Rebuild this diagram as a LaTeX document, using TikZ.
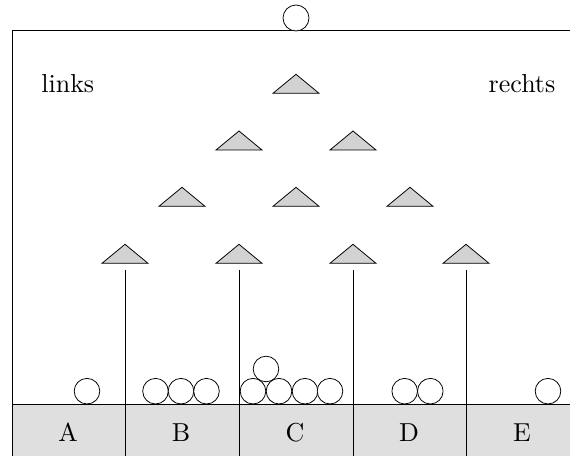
\documentclass[tikz,border=0pt]{standalone}
\begin{document}
\begin{tikzpicture}[x=0.385pt,y=-0.385pt,line width=0.3pt,
  peg/.style={draw=black,fill=gray!35,line join=miter},
  ball/.style={draw=black,fill=white},
  bin/.style={draw=black,fill=gray!25},
  wall/.style={draw=black},
  lbl/.style={anchor=base,inner sep=0pt,font=\normalsize}]
\clip (0,0) rectangle (570,456);
% frame
\coordinate (tl) at (12,30);
\coordinate (tr) at (580,30);
\coordinate (bl) at (12,470);
\coordinate (br) at (580,470);
\fill[gray!25] (12,404) rectangle (580,470);
\draw[wall] (bl) -- (tl) -- (tr) -- (br);
\coordinate (binL) at (12,404);
\coordinate (binR) at (580,404);
\draw[wall] (binL) -- (binR);
% inlet ball
\draw[ball] (296,18) circle (13);
% pegs
\foreach \n/\x/\y in {p11/296/74.3,
  p21/239/131, p22/353/131,
  p31/182/187.3, p32/296/187.3, p33/410/187.3,
  p41/125/244.3, p42/239/244.3, p43/353/244.3, p44/466/244.3}{
  \coordinate (\n) at (\x,\y);
  \draw[peg] ([shift={(-23,19)}]\n) -- (\n) -- ([shift={(23,19)}]\n) -- cycle;
}
% dividers
\foreach \n in {p41,p42,p43,p44}{
  \coordinate (\n s) at ([shift={(0,26)}]\n);
  \coordinate (\n e) at ([shift={(0,230)}]\n);
  \draw[wall] (\n s) -- (\n e);
}
% labels
\node[lbl] (links) at (67.8,92.3) {links};
\node[lbl] (rechts) at (522,92.3) {rechts};
\node[lbl] (A) at (68,441.7) {A};
\node[lbl] (B) at (181,441.7) {B};
\node[lbl] (C) at (295,441.7) {C};
\node[lbl] (D) at (409,441.7) {D};
\node[lbl] (E) at (522,441.7) {E};
% balls
\foreach \x in {87, 155.5,181,206.5, 253,279,305,330, 404.7,430.3, 548}{
  \draw[ball] (\x,391.2) circle (12.8);
}
\draw[ball] (266,369) circle (12.8);
\end{tikzpicture}
\end{document}
